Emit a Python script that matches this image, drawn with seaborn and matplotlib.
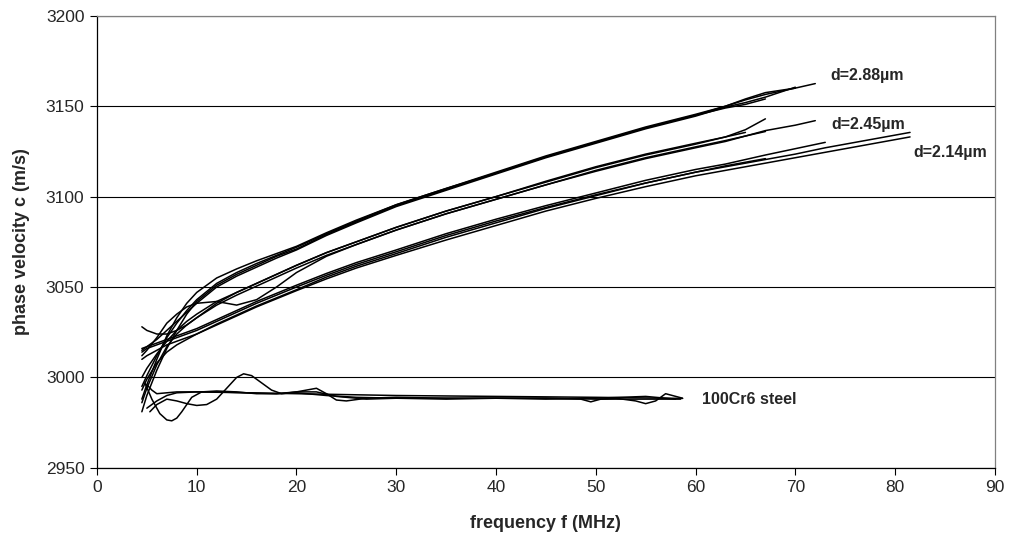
import numpy as np
import pandas as pd
import matplotlib
matplotlib.use("Agg")
import matplotlib.pyplot as plt
import seaborn as sns

nan = np.nan

# frequency grids (MHz)
f_288 = [4.5, 5, 6, 7, 8, 9, 10, 12, 14, 16, 18, 20, 23, 26, 30, 35, 40, 45, 50, 55, 60, 63, 65, 67, 70, 72]
f_245 = f_288
f_214 = [4.5, 5, 6, 7, 8, 9, 10, 12, 14, 16, 18, 20, 23, 26, 30, 35, 40, 45, 50, 55, 60, 63, 65, 67, 70, 73, 77, 81.5]

# phase velocity (m/s), d = 2.88 um
c_288 = [
    [2981, 2990, 3004, 3016, 3026, 3035, 3042, 3051, 3057, 3062, 3067, 3071, 3079, 3086, 3095, 3104, 3113, 3122, 3130, 3138, 3145, 3150, 3153.5, 3156.5, 3160, 3162.5],
    [3015, 3017, 3021, 3026, 3031, 3036, 3041, 3050, 3056, 3061, 3066, 3070.5, 3078.5, 3085.5, 3094.5, 3103.5, 3112.5, 3121.5, 3129.5, 3137.5, 3144.5, 3149.5, 3152, 3155, 3160.5, nan],
    [2995, 3001, 3012, 3022, 3030, 3037, 3043, 3052, 3058, 3063, 3067.5, 3072, 3079.5, 3086.5, 3095.5, 3104.5, 3113.5, 3122.5, 3130.5, 3138.5, 3145.5, 3150, 3154, 3157.5, 3160, nan],
    [2988, 2996, 3010, 3023, 3033, 3041, 3047, 3055, 3060, 3064.5, 3068.5, 3072.5, 3080, 3087, 3095.5, 3104.5, 3113, 3122, 3130, 3138, 3145, 3149, 3151, 3154, nan, nan],
]

# d = 2.45 um
c_245 = [
    [3028, 3026, 3024, 3024, 3026, 3029, 3033, 3041, 3047, 3052, 3057, 3062, 3069, 3075, 3083, 3092, 3100, 3108, 3116, 3123, 3129, 3133, 3137, 3143, nan, nan],
    [3012, 3015, 3022, 3030, 3035, 3039, 3041, 3042, 3040, 3043, 3050, 3058, 3067, 3073.5, 3081.5, 3090.5, 3098.5, 3106.5, 3114.5, 3121.5, 3127.5, 3131, 3133.5, 3136, nan, nan],
    [2986, 2994, 3007, 3017, 3024, 3029, 3033, 3040, 3045.5, 3050.5, 3055.5, 3060.5, 3067.5, 3073.5, 3081.5, 3090.5, 3098.5, 3106.5, 3114, 3121, 3127, 3130.5, 3133.5, 3136.5, 3139.5, 3142],
    [3000, 3005, 3013, 3020, 3026, 3031, 3035, 3042, 3047, 3052, 3057, 3062, 3069, 3075, 3083, 3092, 3100, 3108.5, 3116.5, 3123.5, 3129.5, 3133, 3135.5, nan, nan, nan],
]

# d = 2.14 um
c_214 = [
    [3014, 3016, 3018, 3020, 3022, 3024, 3026, 3031, 3036, 3041, 3045.5, 3050, 3056.5, 3062.5, 3069.5, 3078.5, 3086.5, 3094, 3101, 3107.5, 3113.5, 3116.5, 3118.5, 3120.5, 3123.5, 3127, 3131, 3135.5],
    [3010, 3012, 3015, 3018, 3020, 3022, 3024, 3029, 3034, 3039, 3043.5, 3048, 3054.5, 3060.5, 3067.5, 3076, 3084, 3092, 3099, 3105.5, 3111.5, 3114.5, 3116.5, 3118.5, 3121.5, 3124.5, 3128.5, 3133],
    [3016, 3017, 3019, 3021, 3023, 3025, 3027, 3032, 3037, 3042, 3046.5, 3051, 3057.5, 3063.5, 3070.5, 3079.5, 3087.5, 3095, 3102, 3109, 3115, 3118, 3120.5, 3123, 3126.5, 3130, nan, nan],
    [2993, 2999, 3008, 3014, 3018, 3021, 3024, 3029.5, 3034.5, 3039.5, 3044, 3048.5, 3055.5, 3061.5, 3068.5, 3077.5, 3085.5, 3093.5, 3100.5, 3107.5, 3113.5, 3117, 3119, 3121, nan, nan, nan, nan],
]

# 100Cr6 steel reference curves
f_s1 = [5, 5.5, 6, 7, 8, 10, 15, 20, 25, 30, 40, 50, 58.7]
c_s1 = [2996, 2993, 2991, 2991.5, 2992, 2992, 2991.5, 2991, 2990.5, 2990, 2989.5, 2989, 2988.4]
f_s2 = [4.8, 5.5, 6.3, 7, 7.5, 8, 8.5, 9.5, 10.5, 12, 14, 16, 18, 20, 23, 26, 30, 35, 40, 45, 50, 55, 58.5]
c_s2 = [2997, 2988, 2980, 2976.5, 2976, 2977.5, 2981, 2989, 2992, 2992.5, 2992, 2991, 2991, 2991.5, 2990, 2989, 2988.5, 2988.5, 2988.5, 2988.5, 2988, 2988, 2988]
f_s3 = [5.3, 6, 7, 8, 9, 10, 11, 12, 13, 14, 14.7, 15.5, 16.5, 17.5, 18.5, 20, 21, 22, 23, 24, 25, 27, 30, 35, 40, 45, 48.5, 49.5, 50.5, 52, 54, 55, 56, 57, 58.7]
c_s3 = [2981, 2985, 2988, 2987, 2985.5, 2984.5, 2985, 2988, 2994, 3000, 3002, 3001, 2997, 2993, 2991, 2992, 2993, 2994, 2991, 2987.5, 2987, 2988.5, 2989, 2988.5, 2988.5, 2988.5, 2988, 2986.5, 2988, 2988.5, 2987, 2985.5, 2987, 2991, 2988.5]
f_s4 = [5, 6, 7, 8, 10, 12, 15, 18, 20, 22, 24, 27, 30, 35, 40, 45, 50, 55, 58]
c_s4 = [2983, 2987, 2990, 2991.5, 2992, 2992, 2991.5, 2991, 2992, 2992, 2989.5, 2988, 2988.5, 2988, 2988.5, 2988, 2988.5, 2989.5, 2988]

labels = ["d=2.88µm", "d=2.45µm", "d=2.14µm", "100Cr6 steel"]
label_x = [73.5, 73.6, 81.8, 60.6]
label_y = [3167, 3140, 3124.5, 2988]

# long table for seaborn
frames = []
n = 0
for f, group in [(f_288, c_288), (f_245, c_245), (f_214, c_214)]:
    for c in group:
        frames.append(pd.DataFrame({"f": f, "c": c, "curve": n}))
        n += 1
for f, c in [(f_s1, c_s1), (f_s2, c_s2), (f_s3, c_s3), (f_s4, c_s4)]:
    frames.append(pd.DataFrame({"f": f, "c": c, "curve": n}))
    n += 1
df = pd.concat(frames).dropna()

sns.set_style("white")
plt.rcParams["font.family"] = ["Liberation Sans", "DejaVu Sans"]

fig = plt.figure(figsize=(10.1, 5.44), dpi=100)
ax = fig.add_axes([0.096, 0.14, 0.889, 0.831])

sns.lineplot(data=df, x="f", y="c", units="curve", estimator=None, sort=False,
             color="black", linewidth=1.1, ax=ax)

ax.set_xlim(0, 90)
ax.set_ylim(2950, 3200)
ax.set_xticks(range(0, 91, 10))
ax.set_yticks(range(2950, 3201, 50))
ax.yaxis.grid(True, color="black", linewidth=0.8)
ax.set_axisbelow(True)
ax.tick_params(axis="both", direction="out", length=5, width=0.8, labelsize=12.5,
               color="black", left=True, bottom=True, pad=4)
for side in ["left", "bottom"]:
    ax.spines[side].set_color("black")
    ax.spines[side].set_linewidth(0.9)
for side in ["top", "right"]:
    ax.spines[side].set_color("#808080")
    ax.spines[side].set_linewidth(0.9)

ax.set_xlabel("frequency f (MHz)", fontsize=13, fontweight="bold", labelpad=14)
ax.set_ylabel("phase velocity c (m/s)", fontsize=13, fontweight="bold", labelpad=11)

for t, x, y in zip(labels, label_x, label_y):
    ax.text(x, y, t, fontsize=11.5, fontweight="bold", va="center", ha="left")

fig.savefig("out.png", dpi=100)
